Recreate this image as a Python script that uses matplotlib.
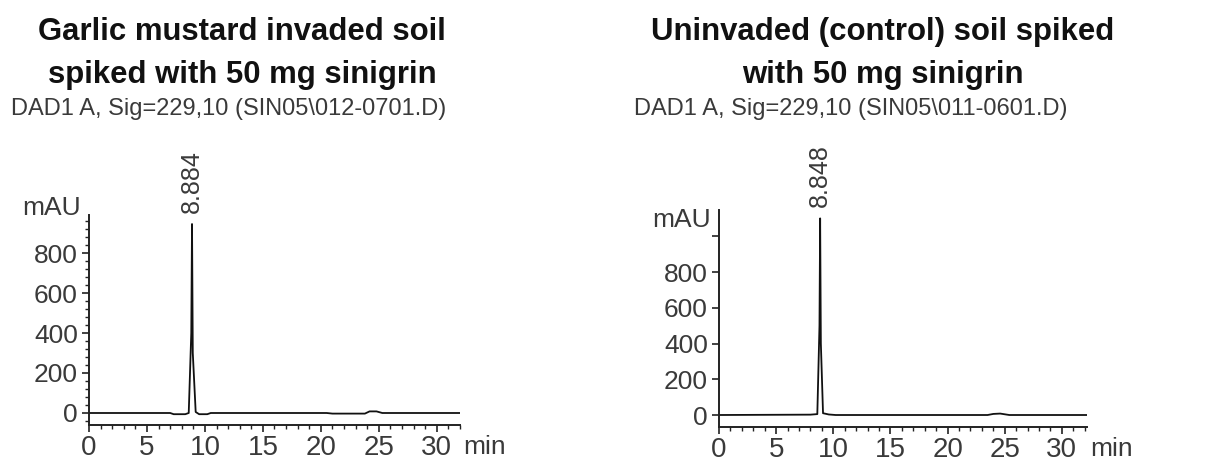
import matplotlib.pyplot as plt
from matplotlib.ticker import MultipleLocator

plt.rcParams['font.family'] = ['Liberation Sans', 'DejaVu Sans']

# Garlic mustard invaded soil, 50 mg sinigrin spike
time_a = [0, 7.0, 7.3, 8.3, 8.6, 8.82, 8.884, 8.95, 9.2, 9.5, 10.2, 10.5,
          20.5, 21.0, 23.8, 24.2, 24.8, 25.3, 32.0]
mau_a = [0, 0, -6, -6, 0, 400, 945, 300, 5, -6, -6, 0,
         0, -3, -3, 8, 8, 0, 0]
peak_a = 8.884
file_a = 'DAD1 A, Sig=229,10 (SIN05\\012-0701.D)'
title_a = ['Garlic mustard invaded soil', 'spiked with 50 mg sinigrin']

# Uninvaded (control) soil, 50 mg sinigrin spike
time_b = [0, 8.0, 8.6, 8.79, 8.848, 8.91, 9.1, 9.6, 10.2,
          23.5, 24.0, 24.6, 25.4, 32.2]
mau_b = [0, 2, 5, 500, 1100, 400, 10, 3, 0,
         0, 6, 8, 0, 0]
peak_b = 8.848
file_b = 'DAD1 A, Sig=229,10 (SIN05\\011-0601.D)'
title_b = ['Uninvaded (control) soil spiked', 'with 50 mg sinigrin']

yticks_a = [0, 200, 400, 600, 800]
yticks_b = [0, 200, 400, 600, 800, 1000]
ylabels_b = ['0', '200', '400', '600', '800', '']

fig = plt.figure(figsize=(12.05, 4.61), dpi=100)
ax_a = fig.add_axes([0.0739, 0.0781, 0.3078, 0.4555])
ax_b = fig.add_axes([0.5967, 0.0738, 0.3054, 0.4707])

grey = '#3a3a3a'


def chromatogram(ax, t, y, peak, ylim, xmax, yticks, ylabels, ymau, yminor):
    ax.plot(t, y, color='#111111', lw=1.3)
    ax.set_xlim(0, xmax)
    ax.set_ylim(*ylim)
    for s in ('top', 'right'):
        ax.spines[s].set_visible(False)
    for s in ('left', 'bottom'):
        ax.spines[s].set_linewidth(1.4)
        ax.spines[s].set_color('#222222')
    ax.xaxis.set_major_locator(MultipleLocator(5))
    ax.xaxis.set_minor_locator(MultipleLocator(1))
    ax.set_yticks(yticks)
    ax.set_yticklabels(ylabels)
    if yminor:
        ax.yaxis.set_minor_locator(MultipleLocator(yminor))
    ax.tick_params(axis='both', which='major', length=5, width=1.2,
                   color='#222222', labelsize=19, labelcolor=grey)
    ax.tick_params(axis='both', which='minor', length=3, width=1.0,
                   color='#222222')
    ax.tick_params(axis='x', pad=2, labelsize=20)
    ax.tick_params(axis='y', pad=3)
    ax.annotate('min', xy=(1, 0), xycoords='axes fraction',
                xytext=(2, -7), textcoords='offset points',
                ha='left', va='top', fontsize=19, color=grey)
    ax.annotate('mAU', xy=(0, ymau), xycoords=('axes fraction', 'data'),
                xytext=(-6, 0), textcoords='offset points',
                ha='right', va='center', fontsize=19, color=grey,
                annotation_clip=False)
    ax.annotate('%.3f' % peak, xy=(peak, max(y)), xycoords='data',
                xytext=(0, 8), textcoords='offset points',
                rotation=90, ha='center', va='bottom', fontsize=18,
                color=grey, annotation_clip=False)


chromatogram(ax_a, time_a, mau_a, peak_a, (-60, 990), 32.0,
             yticks_a, [str(v) for v in yticks_a], 1025, 40)
chromatogram(ax_b, time_b, mau_b, peak_b, (-67, 1147), 32.2,
             yticks_b, ylabels_b, 1091, None)


def heading(xc, lines, sub, xsub):
    fig.text(xc, 1 - 40 / 461, lines[0], ha='center', va='baseline',
             fontsize=22.4, fontweight='bold', color='#111111')
    fig.text(xc, 1 - 83 / 461, lines[1], ha='center', va='baseline',
             fontsize=22.4, fontweight='bold', color='#111111')
    fig.text(xsub, 1 - 115 / 461, sub, ha='center', va='baseline',
             fontsize=17, color=grey)


heading(242 / 1205, title_a, file_a, 229 / 1205)
heading(883 / 1205, title_b, file_b, 851 / 1205)

fig.savefig('out.png', dpi=100, facecolor='white')
